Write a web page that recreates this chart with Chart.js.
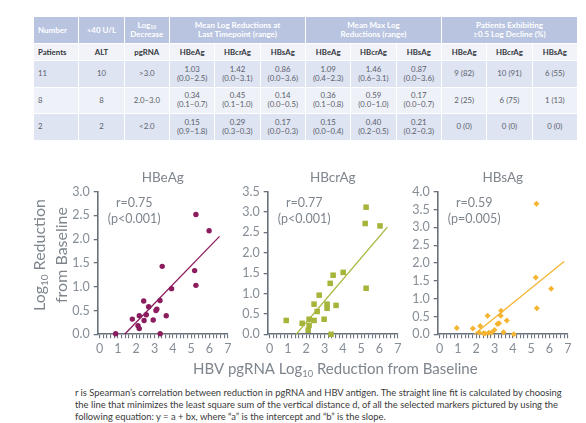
<!DOCTYPE html>
<html><head><meta charset="utf-8">
<script src="https://cdn.jsdelivr.net/npm/chart.js@4.4.1/dist/chart.umd.min.js"></script>
<style>
body{margin:0;width:586px;height:423px;position:relative;background:#fff;overflow:hidden;font-family:Lato,'Open Sans',sans-serif;}
table{position:absolute;left:33px;top:16px;width:544px;border-collapse:collapse;table-layout:fixed;}
td{border:1.5px solid #fff;padding:0;text-align:center;vertical-align:middle;font-size:7.8px;line-height:9px;color:#5a606a;overflow:hidden;white-space:nowrap}
tr.h td{background:#b8c4e0;color:#fff;font-weight:bold;font-size:8px;height:26px;line-height:8.7px}
tr.s td{background:#f1f3f9;color:#33373d;font-weight:bold;height:16px}
tr.d1 td{background:#dee4f2;height:25.5px}
tr.d2 td{background:#eef1f8;height:25.5px}
td.l{text-align:left;padding-left:4px}
sub{font-size:5px;vertical-align:-1px;line-height:0}
canvas{position:absolute;top:160px}
.cap{position:absolute;left:75px;font-size:9.4px;color:#3a3a3a;white-space:nowrap;line-height:12px}
</style></head>
<body>
<table id="tbl"></table>
<canvas id="c1" width="240" height="225" style="left:0px"></canvas>
<canvas id="c2" width="310" height="225" style="left:170px"></canvas>
<canvas id="c3" width="240" height="225" style="left:340px"></canvas>
<div class="cap" style="top:387px">r is Spearman’s correlation between reduction in pgRNA and HBV antigen. The straight line fit is calculated by choosing</div>
<div class="cap" style="top:399px">the line that minimizes the least square sum of the vertical distance d, of all the selected markers pictured by using the</div>
<div class="cap" style="top:411px">following equation: y = a + bx, where “a” is the intercept and “b” is the slope.</div>
<script>
// ---------- table data ----------
const headerRow = ['Number', '<40 U/L', 'Log<sub>10</sub><br>Decrease'];
const headerGroups = ['Mean Log Reductions at<br>Last Timepoint (range)', 'Mean Max Log<br>Reductions (range)', 'Patients Exhibiting<br>≥0.5 Log Decline (%)'];
const subHeader = ['Patients', 'ALT', 'pgRNA', 'HBeAg', 'HBcrAg', 'HBsAg', 'HBeAg', 'HBcrAg', 'HBsAg', 'HBeAg', 'HBcrAg', 'HBsAg'];
const rowPatients = ['11', '8', '2'];
const rowALT = ['10', '8', '2'];
const rowPgRNA = ['>3.0', '2.0–3.0', '<2.0'];
const lastMean = [['1.03', '1.42', '0.86'], ['0.34', '0.45', '0.14'], ['0.15', '0.29', '0.17']];
const lastRange = [['(0.0–2.5)', '(0.0–3.1)', '(0.0–3.6)'], ['(0.1–0.7)', '(0.1–1.0)', '(0.0–0.5)'], ['(0.9–1.8)', '(0.3–0.3)', '(0.0–0.3)']];
const maxMean = [['1.09', '1.46', '0.87'], ['0.36', '0.59', '0.17'], ['0.15', '0.40', '0.21']];
const maxRange = [['(0.4–2.3)', '(0.6–3.1)', '(0.0–3.6)'], ['(0.1–0.8)', '(0.0–1.0)', '(0.0–0.7)'], ['(0.0–0.4)', '(0.2–0.5)', '(0.2–0.3)']];
const declineN = [['9 (82)', '10 (91)', '6 (55)'], ['2 (25)', '6 (75)', '1 (13)'], ['0 (0)', '0 (0)', '0 (0)']];

// ---------- chart data ----------
const xMajorTicks = [0, 1, 2, 3, 4, 5, 6, 7];
const xMinorPerUnit = 5;
const hbeagYTicks = [0, 0.5, 1.0, 1.5, 2.0, 2.5, 3.0];
const hbcragYTicks = [0, 0.5, 1.0, 1.5, 2.0, 2.5, 3.0, 3.5];
const hbsagYTicks = [0, 0.5, 1.0, 1.5, 2.0, 2.5, 3.0, 3.5, 4.0];

const pgrnaHBeAg = [5.26, 5.98, 3.42, 5.19, 5.26, 3.93, 3.30, 2.41, 2.68, 3.13, 3.08, 2.17, 2.55, 3.64, 1.79, 2.43, 2.93, 2.10, 2.17, 0.88, 3.31];
const hbeagReduction = [2.52, 2.18, 1.43, 1.34, 1.03, 0.96, 0.71, 0.70, 0.58, 0.53, 0.50, 0.39, 0.41, 0.39, 0.32, 0.29, 0.30, 0.18, 0.12, 0.01, 0.01];
const hbeagFitX = [1.37, 6.55];
const hbeagFitY = [0, 2.06];

const pgrnaHBcrAg = [5.27, 5.22, 6.03, 4.02, 3.47, 3.31, 5.27, 2.71, 2.43, 3.14, 3.63, 3.14, 2.60, 2.16, 2.43, 2.98, 0.91, 1.78, 2.16, 2.11, 3.36];
const hbcragReduction = [3.12, 2.72, 2.66, 1.52, 1.45, 1.25, 1.13, 0.96, 0.74, 0.74, 0.71, 0.64, 0.56, 0.37, 0.34, 0.37, 0.34, 0.27, 0.22, 0.10, 0.00];
const hbcragFitX = [1.45, 6.43];
const hbcragFitY = [0, 2.63];

const pgrnaHBsAg = [5.29, 5.25, 6.09, 5.31, 3.36, 2.62, 3.34, 3.67, 3.16, 3.25, 0.94, 1.82, 2.22, 3.00, 2.16, 3.49, 2.49, 2.69, 2.84, 4.05, 2.40];
const hbsagReduction = [3.66, 1.59, 1.28, 0.73, 0.66, 0.52, 0.52, 0.39, 0.29, 0.31, 0.18, 0.16, 0.23, 0.12, 0.05, 0.06, 0.02, 0.04, 0.05, 0.00, 0.03];
const hbsagFitX = [1.90, 6.80];
const hbsagFitY = [0, 2.04];

// ---------- build table ----------
(function () {
  const t = document.getElementById('tbl');
  let h = '<colgroup>' + '<col style="width:45.33px">'.repeat(12) + '</colgroup>';
  h += '<tr class="h"><td class="l">' + headerRow[0] + '</td><td>' + headerRow[1] + '</td><td>' + headerRow[2] + '</td>';
  headerGroups.forEach(g => { h += '<td colspan="3">' + g + '</td>'; });
  h += '</tr><tr class="s">';
  subHeader.forEach((s, i) => { h += '<td' + (i === 0 ? ' class="l"' : '') + '>' + s + '</td>'; });
  h += '</tr>';
  rowPatients.forEach((p, r) => {
    h += '<tr class="' + (r === 1 ? 'd2' : 'd1') + '"><td class="l">' + p + '</td><td>' + rowALT[r] + '</td><td>' + rowPgRNA[r] + '</td>';
    for (let k = 0; k < 3; k++) h += '<td>' + lastMean[r][k] + '<br>' + lastRange[r][k] + '</td>';
    for (let k = 0; k < 3; k++) h += '<td>' + maxMean[r][k] + '<br>' + maxRange[r][k] + '</td>';
    for (let k = 0; k < 3; k++) h += '<td>' + declineN[r][k] + '</td>';
    h += '</tr>';
  });
  t.innerHTML = h;
})();

// ---------- charts ----------
const AXIS = '#69727c', TICK = '#858d96', TXT = '#7e858d';
const FONT = 'Lato, "Open Sans", sans-serif';

function drawRich(ctx, segs, x, y, size, color, rot) {
  ctx.save();
  ctx.translate(x, y);
  if (rot) ctx.rotate(rot);
  const f = s => (s.sub ? size * 0.62 : size) + 'px ' + FONT;
  let w = 0;
  segs.forEach(s => { ctx.font = f(s); s.w = ctx.measureText(s.t).width; w += s.w; });
  let cx = -w / 2;
  ctx.fillStyle = color; ctx.textBaseline = 'middle'; ctx.textAlign = 'left';
  segs.forEach(s => { ctx.font = f(s); ctx.fillText(s.t, cx, s.sub ? size * 0.32 : 0); cx += s.w; });
  ctx.restore();
}

const textPlugin = {
  id: 'panelText',
  afterDraw(chart, args, opts) {
    const a = chart.chartArea, ctx = chart.ctx;
    (opts.items || []).forEach(it => {
      const x = (it.center ? (a.left + a.right) / 2 : a.left) + it.dx;
      drawRich(ctx, it.segs, x, a.top + it.dy, it.size, it.color || TXT, it.rot || 0);
    });
  }
};

function makePanel(p) {
  const points = p.xs.map((x, i) => ({ x: x, y: p.ys[i] }));
  const fit = p.fitX.map((x, i) => ({ x: x, y: p.fitY[i] }));
  const items = [
    { segs: [{ t: p.title }], center: true, dx: 0, dy: -13.7, size: 13.5 },
    { segs: [{ t: p.r }], dx: 36.5, dy: 11.5, size: 12.5 },
    { segs: [{ t: p.p }], dx: 36.5, dy: 27.5, size: 12.5 }
  ].concat(p.extra || []);
  const canvas = document.getElementById(p.id);
  new Chart(canvas, {
    type: 'scatter',
    data: {
      datasets: [
        { type: 'line', data: fit, borderColor: p.color, borderWidth: 1.3, pointRadius: 0, fill: false, clip: false, order: 2 },
        { data: points, backgroundColor: p.color, borderColor: p.color, borderWidth: 0, pointStyle: p.style, pointRadius: p.radius, pointHoverRadius: p.radius, clip: false, order: 1 }
      ]
    },
    options: {
      responsive: false, animation: false, devicePixelRatio: 1,
      layout: { padding: { top: 31.7, right: canvas.width - 227.8, left: 0, bottom: 0 } },
      plugins: { legend: { display: false }, tooltip: { enabled: false }, panelText: { items: items } },
      scales: {
        x: {
          type: 'linear', min: -0.1, max: 7,
          afterFit(s) { s.height = 50.7; },
          afterBuildTicks(s) {
            const t = [];
            xMajorTicks.forEach((m, i) => {
              t.push({ value: m });
              if (i < xMajorTicks.length - 1) for (let k = 1; k < xMinorPerUnit; k++) t.push({ value: m + k / xMinorPerUnit });
            });
            s.ticks = t;
          },
          ticks: {
            autoSkip: false, maxRotation: 0, minRotation: 0, padding: 3, color: TICK,
            font: { family: FONT, size: 12.5 },
            callback: v => (xMajorTicks.includes(v) ? String(v) : '')
          },
          grid: { drawOnChartArea: false, drawTicks: true, tickLength: 4, color: AXIS, lineWidth: 1.1 },
          border: { display: true, color: AXIS, width: 1.6 }
        },
        y: {
          type: 'linear', min: 0, max: p.yTicks[p.yTicks.length - 1],
          afterFit(s) { s.width = 97.7; },
          afterBuildTicks(s) { s.ticks = p.yTicks.map(v => ({ value: v })); },
          ticks: { autoSkip: false, padding: 4, color: TICK, font: { family: FONT, size: 12.5 }, callback: v => Number(v).toFixed(1) },
          grid: { drawOnChartArea: false, drawTicks: true, tickLength: 4, color: AXIS, lineWidth: 1.3 },
          border: { display: true, color: AXIS, width: 1.6 }
        }
      }
    },
    plugins: [textPlugin]
  });
}

makePanel({
  id: 'c1', title: 'HBeAg', r: 'r=0.75', p: '(p<0.001)', xs: pgrnaHBeAg, ys: hbeagReduction,
  fitX: hbeagFitX, fitY: hbeagFitY, yTicks: hbeagYTicks, color: '#8b1c5d', style: 'circle', radius: 2.7,
  extra: [
    { segs: [{ t: 'Log' }, { t: '10', sub: true }, { t: ' Reduction' }], dx: -57.7, dy: 63.3, size: 16, rot: -Math.PI / 2 },
    { segs: [{ t: 'from Baseline' }], dx: -36, dy: 63.3, size: 16, rot: -Math.PI / 2 }
  ]
});
makePanel({
  id: 'c2', title: 'HBcrAg', r: 'r=0.77', p: '(p<0.001)', xs: pgrnaHBcrAg, ys: hbcragReduction,
  fitX: hbcragFitX, fitY: hbcragFitY, yTicks: hbcragYTicks, color: '#a6b43a', style: 'rect', radius: 3.9,
  extra: [
    { segs: [{ t: 'HBV pgRNA Log' }, { t: '10', sub: true }, { t: ' Reduction from Baseline' }], dx: 67.6, dy: 177.6, size: 15 }
  ]
});
makePanel({
  id: 'c3', title: 'HBsAg', r: 'r=0.59', p: '(p=0.005)', xs: pgrnaHBsAg, ys: hbsagReduction,
  fitX: hbsagFitX, fitY: hbsagFitY, yTicks: hbsagYTicks, color: '#f5b431', style: 'rectRot', radius: 3.0
});
</script>
</body></html>
